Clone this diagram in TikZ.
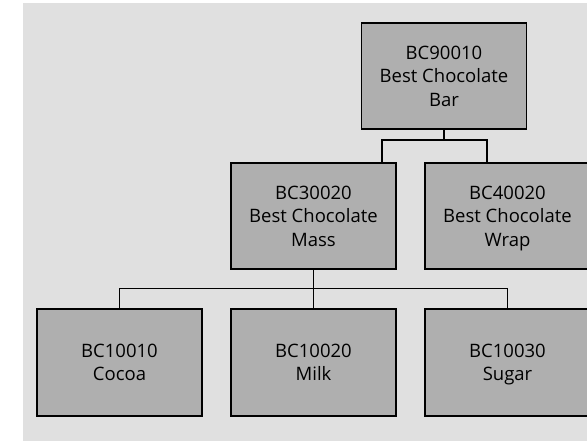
\documentclass[tikz,border=0pt]{standalone}
\usepackage{fontspec}
\setmainfont{Open Sans}
\begin{document}
\begin{tikzpicture}[x=1pt,y=-1pt,
  part/.style={draw=black,line width=1.4pt,fill=boxgray,
    minimum width=165pt,minimum height=106pt,inner sep=0pt,
    align=center,font=\fontsize{18.5}{23.5}\selectfont},
  link/.style={draw=black,line width=1.3pt}]
\definecolor{panel}{HTML}{E0E0E0}
\definecolor{boxgray}{HTML}{AFAFAF}
\useasboundingbox (0,0) rectangle (587,441);
\clip (0,0) rectangle (587,441);
% panel behind the structure
\fill[panel] (23,3) rectangle (600,450);

% bill of materials levels (last line smashed so every box centres alike)
\node[part] (bar)   at (444,76)    {BC90010\\Best Chocolate\\\smash{Bar}};
\node[part] (mass)  at (313.5,216) {BC30020\\Best Chocolate\\\smash{Mass}};
\node[part] (wrap)  at (507.5,216) {BC40020\\Best Chocolate\\\smash{Wrap}};
\node[part,minimum height=107pt] (cocoa) at (119.5,362.5) {BC10010\\\smash{Cocoa}};
\node[part,minimum height=107pt] (milk)  at (313.5,362.5) {BC10020\\\smash{Milk}};
\node[part,minimum height=107pt] (sugar) at (507.5,362.5) {BC10030\\\smash{Sugar}};

% level 1 -> level 2
\coordinate (j1) at (444,140);
\coordinate (ja) at (382,140);
\coordinate (jb) at (487,140);
\draw[link] (bar.south) -- (j1);
\draw[link] (ja |- mass.north) -- (ja) -- (jb) -- (jb |- wrap.north);

% level 2 -> level 3
\draw[link] (mass.south) -- (milk.north);
\draw[link] (cocoa.north) -- ++(0,-20) -| (sugar.north);
\end{tikzpicture}
\end{document}
